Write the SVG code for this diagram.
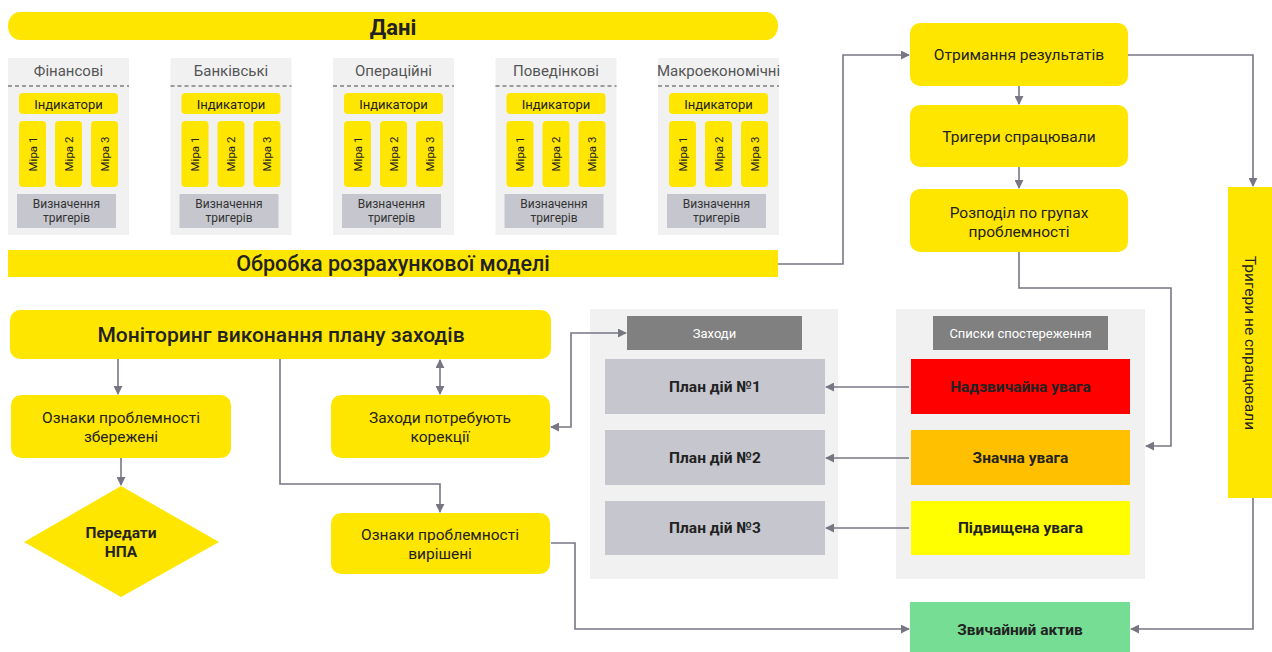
<svg xmlns="http://www.w3.org/2000/svg" width="1272" height="652" viewBox="0 0 1272 652">
<style>
text{font-family:Roboto,"Liberation Sans",sans-serif;fill:#222;text-anchor:middle}
.y{fill:#ffe600}
.pan{fill:#f1f1f2}
.ptitle{font-size:15px;fill:#555}
.ind{font-size:13px}
.mira{font-size:11.5px}
.vt{font-size:12px;fill:#333}
.lbl{font-size:15.5px}
.big{font-size:21px;font-weight:500}
.bold{font-size:15.5px;font-weight:700}
.hdr{font-size:13px;fill:#fff}
.gbox{fill:#c6c7ce}
.con{fill:none;stroke:#777784;stroke-width:1.6}
</style>
<defs>
<marker id="ah" viewBox="0 0 10 10" refX="9" refY="5" markerWidth="9" markerHeight="9" markerUnits="userSpaceOnUse" orient="auto-start-reverse">
<path d="M0,0 L10,5 L0,10 z" fill="#777784"/>
</marker>
<g id="panelInner">
<line x1="0" y1="86" x2="121" y2="86" stroke="#444" stroke-width="1" stroke-dasharray="4,3"/>
<rect x="11" y="93" width="99" height="21" rx="4" class="y"/>
<text x="60.5" y="108.5" class="ind">Індикатори</text>
<rect x="11" y="121" width="27" height="66" rx="4" class="y"/>
<rect x="47" y="121" width="27" height="66" rx="4" class="y"/>
<rect x="83" y="121" width="27" height="66" rx="4" class="y"/>
<text transform="translate(24.5 154) rotate(-90)" y="4" class="mira">Міра 1</text>
<text transform="translate(60.5 154) rotate(-90)" y="4" class="mira">Міра 2</text>
<text transform="translate(96.5 154) rotate(-90)" y="4" class="mira">Міра 3</text>
<rect x="9" y="194" width="99" height="34" class="gbox"/>
<text x="58.5" y="208" class="vt">Визначення</text>
<text x="58.5" y="222" class="vt">тригерів</text>
</g>
</defs>

<g id="dani">
<path d="M20 12 H766 A12 14 0 0 1 766 40 H20 A12 14 0 0 1 20 12 Z" class="y"/>
<text x="393" y="35" style="font-size:22px;font-weight:700">Дані</text>
</g>

<g id="panel-fin" transform="translate(8 0)">
<rect x="0" y="58" width="121" height="177" class="pan"/>
<text x="60.5" y="76" class="ptitle">Фінансові</text>
<use href="#panelInner"/>
</g>
<g id="panel-bank" transform="translate(170.5 0)">
<rect x="0" y="58" width="121" height="177" class="pan"/>
<text x="60.5" y="76" class="ptitle">Банківські</text>
<use href="#panelInner"/>
</g>
<g id="panel-oper" transform="translate(333 0)">
<rect x="0" y="58" width="121" height="177" class="pan"/>
<text x="60.5" y="76" class="ptitle">Операційні</text>
<use href="#panelInner"/>
</g>
<g id="panel-pov" transform="translate(495.5 0)">
<rect x="0" y="58" width="121" height="177" class="pan"/>
<text x="60.5" y="76" class="ptitle">Поведінкові</text>
<use href="#panelInner"/>
</g>
<g id="panel-macro" transform="translate(658 0)">
<rect x="0" y="58" width="121" height="177" class="pan"/>
<text x="60.5" y="76" class="ptitle">Макроекономічні</text>
<use href="#panelInner"/>
</g>

<g id="obrobka">
<rect x="8" y="250" width="770" height="27" class="y"/>
<text x="393" y="271" class="big" style="font-size:21.5px">Обробка розрахункової моделі</text>
</g>

<g id="otrymannia">
<rect x="910" y="23" width="218" height="63" rx="10" class="y"/>
<text x="1019" y="60" class="lbl">Отримання результатів</text>
</g>
<g id="tryhery">
<rect x="910" y="105" width="218" height="62" rx="10" class="y"/>
<text x="1019" y="142" class="lbl">Тригери спрацювали</text>
</g>
<g id="rozpodil">
<rect x="910" y="189" width="218" height="63" rx="10" class="y"/>
<text x="1019" y="218" class="lbl">Розподіл по групах</text>
<text x="1019" y="237" class="lbl">проблемності</text>
</g>
<g id="ne-spratsiuvaly">
<rect x="1228" y="187" width="44" height="311" class="y"/>
<text transform="translate(1250 343) rotate(90)" y="5" class="lbl">Тригери не спрацювали</text>
</g>

<g id="monitoring">
<rect x="10" y="310" width="541" height="49" rx="10" class="y"/>
<text x="281" y="342" class="big">Моніторинг виконання плану заходів</text>
</g>
<g id="zberezheni">
<rect x="11" y="395" width="220" height="63" rx="10" class="y"/>
<text x="121" y="423" class="lbl">Ознаки проблемності</text>
<text x="121" y="442" class="lbl">збережені</text>
</g>
<g id="peredaty">
<path d="M121 486 L219 542 L121 597 L24 542 Z" class="y"/>
<text x="121" y="538" class="bold">Передати</text>
<text x="121" y="557" class="bold">НПА</text>
</g>
<g id="korektsii">
<rect x="331" y="395" width="219" height="63" rx="10" class="y"/>
<text x="440" y="423" class="lbl">Заходи потребують</text>
<text x="440" y="442" class="lbl">корекції</text>
</g>
<g id="vyrisheni">
<rect x="331" y="513" width="219" height="61" rx="10" class="y"/>
<text x="440" y="540" class="lbl">Ознаки проблемності</text>
<text x="440" y="559" class="lbl">вирішені</text>
</g>

<g id="zakhody">
<rect x="590" y="309" width="248" height="270" class="pan"/>
<rect x="627" y="316" width="175" height="34" fill="#808080"/>
<text x="714.5" y="338" class="hdr">Заходи</text>
</g>
<g id="plan1">
<rect x="605" y="359" width="220" height="55" class="gbox"/>
<text x="715" y="392" class="bold">План дій №1</text>
</g>
<g id="plan2">
<rect x="605" y="430" width="220" height="55" class="gbox"/>
<text x="715" y="463" class="bold">План дій №2</text>
</g>
<g id="plan3">
<rect x="605" y="501" width="220" height="54" class="gbox"/>
<text x="715" y="533" class="bold">План дій №3</text>
</g>

<g id="spysky">
<rect x="896" y="309" width="249" height="270" class="pan"/>
<rect x="933" y="316" width="175" height="34" fill="#808080"/>
<text x="1020.5" y="338" class="hdr">Списки спостереження</text>
</g>
<g id="nadzvychaina">
<rect x="911" y="359" width="219" height="55" fill="#ff0000"/>
<text x="1020.5" y="392" class="bold">Надзвичайна увага</text>
</g>
<g id="znachna">
<rect x="911" y="430" width="219" height="55" fill="#ffc000"/>
<text x="1020.5" y="463" class="bold">Значна увага</text>
</g>
<g id="pidvyshchena">
<rect x="911" y="501" width="219" height="54" fill="#ffff00"/>
<text x="1020.5" y="533" class="bold">Підвищена увага</text>
</g>
<g id="zvychainyi">
<rect x="910" y="602" width="220" height="50" fill="#76dd94"/>
<text x="1020" y="635" class="bold">Звичайний актив</text>
</g>

<g id="connectors">
<path class="con" d="M778 264 H843 V55 H909" marker-end="url(#ah)"/>
<path class="con" d="M1019 86 V104" marker-end="url(#ah)"/>
<path class="con" d="M1019 167 V188" marker-end="url(#ah)"/>
<path class="con" d="M1128 55 H1253 V186" marker-end="url(#ah)"/>
<path class="con" d="M1019 252 V288 H1171 V446 H1146" marker-end="url(#ah)"/>
<path class="con" d="M1253 498 V629 H1131" marker-end="url(#ah)"/>
<path class="con" d="M909 387 H826" marker-end="url(#ah)"/>
<path class="con" d="M909 458 H826" marker-end="url(#ah)"/>
<path class="con" d="M909 528 H826" marker-end="url(#ah)"/>
<path class="con" d="M551 427 H571 V333 H626" marker-start="url(#ah)" marker-end="url(#ah)"/>
<path class="con" d="M118 359 V394" marker-end="url(#ah)"/>
<path class="con" d="M121 458 V485" marker-end="url(#ah)"/>
<path class="con" d="M280 359 V484 H440 V512" marker-end="url(#ah)"/>
<path class="con" d="M440 360 V394" marker-start="url(#ah)" marker-end="url(#ah)"/>
<path class="con" d="M551 543 H575 V629 H909" marker-end="url(#ah)"/>
</g>
</svg>
